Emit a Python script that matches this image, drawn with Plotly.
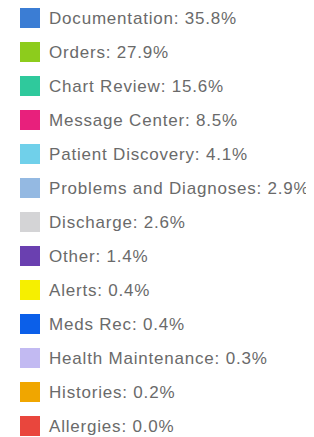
import plotly.graph_objects as go

categories = ["Documentation", "Orders", "Chart Review", "Message Center", "Patient Discovery",
              "Problems and Diagnoses", "Discharge", "Other", "Alerts", "Meds Rec",
              "Health Maintenance", "Histories", "Allergies"]
percentages = [35.8, 27.9, 15.6, 8.5, 4.1, 2.9, 2.6, 1.4, 0.4, 0.4, 0.3, 0.2, 0.0]
colors = ["#3b7dd4", "#8dcc1c", "#2fc99c", "#e8207c", "#70d0ea", "#94b9e2", "#d4d4d6",
          "#6a40b0", "#f6ef00", "#0b5fe9", "#c2baf2", "#f0a600", "#e9463d"]

idx = list(range(len(categories)))
labels = [f"{c}: {p:.1f}%" for c, p in zip(categories, percentages)]

W, H = 306, 429
fig = go.Figure()
fig.add_trace(go.Scatter(
    x=[22] * len(idx), y=idx, mode="markers",
    marker=dict(symbol="square", size=20, color=colors, line=dict(width=0)),
    hoverinfo="skip", showlegend=False,
))
for i, lab in zip(idx, labels):
    fig.add_annotation(x=39, y=i, text=f'<span style="letter-spacing:0.8px">{lab}</span>',
                       xanchor="left", yanchor="middle", showarrow=False,
                       font=dict(family="Liberation Sans, Arial", size=17, color="#6a6a6a"))

fig.update_layout(
    width=W, height=H, margin=dict(l=0, r=0, t=0, b=0),
    paper_bgcolor="white", plot_bgcolor="white",
    xaxis=dict(range=[0, W], visible=False, fixedrange=True),
    yaxis=dict(range=[(H - 10) / 34, -10 / 34], visible=False, fixedrange=True),
)
fig.write_html("out.html")
